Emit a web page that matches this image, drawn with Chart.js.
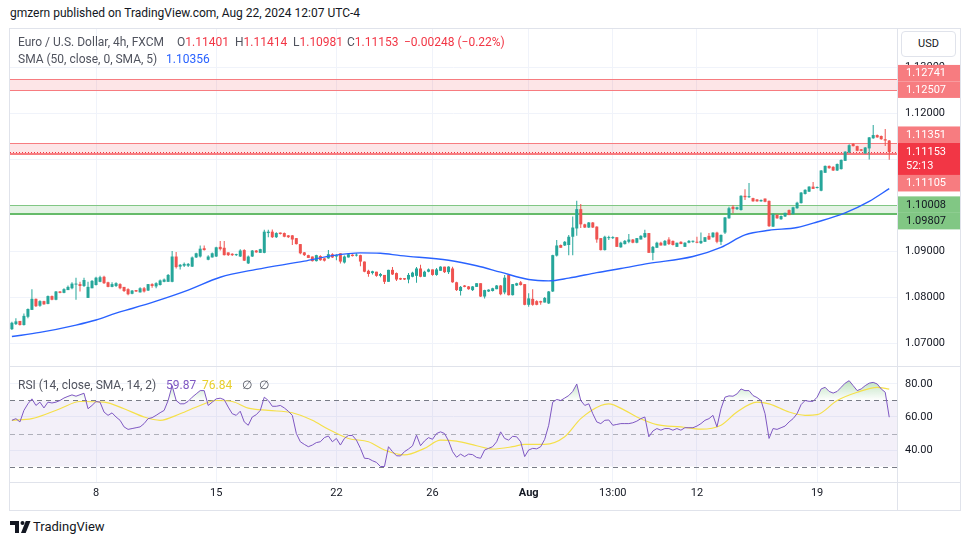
<!DOCTYPE html>
<html>
<head>
<meta charset="utf-8">
<title>EUR/USD 4h</title>
<script src="https://cdn.jsdelivr.net/npm/chart.js@4.4.1/dist/chart.umd.min.js"></script>
<style>
  html, body { margin: 0; padding: 0; background: #fff; }
  body { position: relative; width: 970px; height: 545px; overflow: hidden; font-family: Roboto, "Liberation Sans", sans-serif; color: #131722; }
  .t { position: absolute; white-space: nowrap; font-size: 12px; line-height: 16px; }
  .ln { position: absolute; background: #e0e3eb; }
  canvas { position: absolute; }
  .g { color: #50535e; }
  .r { color: #f23645; }
</style>
</head>
<body>
<div class="t" style="left:10px;top:5px;">gmzern published on TradingView.com, Aug 22, 2024 12:07 UTC-4</div>

<canvas id="price" width="950" height="337" style="left:10px;top:29px"></canvas>
<canvas id="rsi" width="950" height="143" style="left:10px;top:367px"></canvas>

<!-- frame and pane separators -->
<div class="ln" style="left:9px;top:28px;width:952px;height:1px"></div>
<div class="ln" style="left:9px;top:28px;width:1px;height:483px"></div>
<div class="ln" style="left:960px;top:28px;width:1px;height:483px"></div>
<div class="ln" style="left:9px;top:510px;width:952px;height:1px"></div>
<div class="ln" style="left:10px;top:366px;width:950px;height:1px"></div>
<div class="ln" style="left:10px;top:482px;width:950px;height:1px"></div>
<div class="ln" style="left:897px;top:29px;width:1px;height:481px"></div>

<!-- legends -->
<div class="t g" style="left:18px;top:34px">Euro / U.S. Dollar, 4h, FXCM</div>
<div class="t" style="left:177px;top:34px"><span class="g">O</span><span class="r" id="vO"></span></div>
<div class="t" style="left:235px;top:34px"><span class="g">H</span><span class="r" id="vH"></span></div>
<div class="t" style="left:293px;top:34px"><span class="g">L</span><span class="r" id="vL"></span></div>
<div class="t" style="left:347px;top:34px"><span class="g">C</span><span class="r" id="vC"></span></div>
<div class="t r" style="left:404px;top:34px" id="vChg"></div>
<div class="t g" style="left:18px;top:51px">SMA (50, close, 0, SMA, 5)</div>
<div class="t" style="left:166px;top:51px;color:#2962ff" id="vSma"></div>

<div class="t g" style="left:18px;top:377px">RSI (14, close, SMA, 14, 2)</div>
<div class="t" style="left:166px;top:377px;color:#7e57c2" id="vRsi"></div>
<div class="t" style="left:202px;top:377px;color:#e8cf2c" id="vRsiMa"></div>
<div class="t g" style="left:242px;top:377px">∅</div>
<div class="t g" style="left:259px;top:377px">∅</div>

<!-- currency box -->
<div style="position:absolute;left:901px;top:31px;width:53px;height:24px;border:1px solid #e0e3eb;border-radius:4px;background:#fff;font-size:11px;line-height:24px;text-align:center;">USD</div>

<!-- footer logo -->
<div style="position:absolute;left:10px;top:520px;">
  <svg width="21" height="12" viewBox="0 0 21 12" style="position:absolute;left:0;top:1px">
    <path d="M0 0H9V12H5V4H0Z" fill="#131722"/>
    <circle cx="12.5" cy="2" r="2" fill="#131722"/>
    <path d="M11 12L15.8 0H20.5L15.7 12Z" fill="#131722"/>
  </svg>
  <div class="t" style="left:23px;top:-1px;font-size:13px;">TradingView</div>
</div>

<script>
// EUR/USD 4h candles (FXCM), early July to Aug 22 2024
const opens = [
  1.0730, 1.0741, 1.0748, 1.0739, 1.0757, 1.0772, 1.0796, 1.0781, 1.0791, 1.0785,
  1.0802, 1.0794, 1.0812, 1.0809, 1.0815, 1.0819, 1.0827, 1.0828, 1.0824, 1.0798,
  1.0819, 1.0826, 1.0833, 1.0844, 1.0832, 1.0822, 1.0824, 1.0828, 1.0822, 1.0817,
  1.0807, 1.0815, 1.0810, 1.0819, 1.0814, 1.0828, 1.0823, 1.0826, 1.0833, 1.0833,
  1.0833, 1.0888, 1.0866, 1.0868, 1.0868, 1.0866, 1.0886, 1.0888, 1.0906, 1.0881,
  1.0886, 1.0888, 1.0909, 1.0907, 1.0897, 1.0894, 1.0891, 1.0888, 1.0902, 1.0873,
  1.0888, 1.0901, 1.0896, 1.0896, 1.0939, 1.0942, 1.0930, 1.0940, 1.0939, 1.0934,
  1.0934, 1.0928, 1.0915, 1.0897, 1.0891, 1.0888, 1.0878, 1.0889, 1.0884, 1.0884,
  1.0893, 1.0888, 1.0895, 1.0875, 1.0886, 1.0892, 1.0890, 1.0891, 1.0877, 1.0857,
  1.0852, 1.0855, 1.0846, 1.0848, 1.0833, 1.0859, 1.0852, 1.0841, 1.0841, 1.0838,
  1.0844, 1.0846, 1.0862, 1.0844, 1.0855, 1.0860, 1.0848, 1.0857, 1.0866, 1.0854,
  1.0862, 1.0832, 1.0813, 1.0825, 1.0823, 1.0815, 1.0822, 1.0830, 1.0801, 1.0812,
  1.0813, 1.0817, 1.0825, 1.0810, 1.0848, 1.0804, 1.0825, 1.0832, 1.0828, 1.0783,
  1.0796, 1.0791, 1.0791, 1.0788, 1.0786, 1.0812, 1.0890, 1.0913, 1.0912, 1.0913,
  1.0931, 1.0949, 1.0991, 1.0958, 1.0951, 1.0962, 1.0953, 1.0928, 1.0902, 1.0928,
  1.0928, 1.0930, 1.0908, 1.0915, 1.0920, 1.0925, 1.0918, 1.0925, 1.0930, 1.0939,
  1.0896, 1.0907, 1.0918, 1.0912, 1.0925, 1.0922, 1.0909, 1.0920, 1.0909, 1.0918,
  1.0920, 1.0920, 1.0917, 1.0920, 1.0933, 1.0930, 1.0940, 1.0920, 1.0940, 1.0971,
  1.0996, 1.0991, 1.0989, 1.1020, 1.1017, 1.1015, 1.1012, 1.1008, 1.1014, 1.1009,
  1.0953, 1.0979, 1.0969, 1.0975, 1.0989, 1.0980, 1.0993, 1.1004, 1.1024, 1.1029,
  1.1040, 1.1037, 1.1031, 1.1070, 1.1085, 1.1083, 1.1075, 1.1078, 1.1096, 1.1114,
  1.1133, 1.1128, 1.1121, 1.1112, 1.1123, 1.1145, 1.1152, 1.1150, 1.1143, 1.11401
];
const highs = [
  1.0746, 1.0754, 1.0748, 1.0764, 1.0775, 1.0817, 1.0797, 1.0793, 1.0792, 1.0803,
  1.0803, 1.0813, 1.0813, 1.0819, 1.0825, 1.0832, 1.0842, 1.0833, 1.0842, 1.0833,
  1.0837, 1.0844, 1.0846, 1.0846, 1.0833, 1.0832, 1.0832, 1.0830, 1.0822, 1.0819,
  1.0815, 1.0815, 1.0821, 1.0822, 1.0828, 1.0830, 1.0832, 1.0838, 1.0840, 1.0850,
  1.0900, 1.0898, 1.0872, 1.0875, 1.0874, 1.0888, 1.0896, 1.0912, 1.0912, 1.0891,
  1.0897, 1.0909, 1.0922, 1.0922, 1.0897, 1.0895, 1.0894, 1.0904, 1.0904, 1.0890,
  1.0902, 1.0902, 1.0905, 1.0946, 1.0946, 1.0947, 1.0941, 1.0940, 1.0940, 1.0935,
  1.0935, 1.0928, 1.0915, 1.0898, 1.0892, 1.0888, 1.0892, 1.0891, 1.0885, 1.0902,
  1.0895, 1.0893, 1.0895, 1.0890, 1.0895, 1.0893, 1.0895, 1.0892, 1.0877, 1.0859,
  1.0857, 1.0855, 1.0852, 1.0848, 1.0859, 1.0865, 1.0853, 1.0842, 1.0841, 1.0852,
  1.0855, 1.0865, 1.0870, 1.0857, 1.0862, 1.0860, 1.0863, 1.0867, 1.0866, 1.0867,
  1.0866, 1.0833, 1.0824, 1.0826, 1.0824, 1.0824, 1.0830, 1.0830, 1.0816, 1.0817,
  1.0820, 1.0826, 1.0826, 1.0848, 1.0850, 1.0828, 1.0831, 1.0835, 1.0828, 1.0808,
  1.0817, 1.0793, 1.0792, 1.0800, 1.0813, 1.0892, 1.0924, 1.0914, 1.0922, 1.0935,
  1.0975, 1.1009, 1.1002, 1.0959, 1.0963, 1.0963, 1.0954, 1.0928, 1.0933, 1.0933,
  1.0932, 1.0930, 1.0920, 1.0924, 1.0937, 1.0926, 1.0928, 1.0934, 1.0946, 1.0939,
  1.0911, 1.0920, 1.0920, 1.0924, 1.0930, 1.0923, 1.0918, 1.0921, 1.0919, 1.0924,
  1.0923, 1.0931, 1.0940, 1.0930, 1.0939, 1.0941, 1.0942, 1.0936, 1.0974, 1.0996,
  1.1000, 1.0996, 1.1021, 1.1034, 1.1048, 1.1016, 1.1013, 1.1012, 1.1014, 1.1010,
  1.0982, 1.0979, 1.0977, 1.0983, 1.0990, 1.0996, 1.1007, 1.1028, 1.1034, 1.1041,
  1.1050, 1.1040, 1.1076, 1.1086, 1.1086, 1.1084, 1.1090, 1.1099, 1.1117, 1.1132,
  1.1135, 1.1129, 1.1122, 1.1126, 1.1148, 1.1174, 1.1153, 1.1151, 1.1165, 1.11414
];
const lows = [
  1.0728, 1.0739, 1.0738, 1.0738, 1.0754, 1.0772, 1.0778, 1.0779, 1.0783, 1.0784,
  1.0793, 1.0793, 1.0808, 1.0808, 1.0815, 1.0817, 1.0794, 1.0812, 1.0822, 1.0798,
  1.0819, 1.0825, 1.0832, 1.0828, 1.0821, 1.0821, 1.0822, 1.0817, 1.0811, 1.0804,
  1.0806, 1.0811, 1.0810, 1.0810, 1.0813, 1.0820, 1.0819, 1.0825, 1.0832, 1.0833,
  1.0832, 1.0862, 1.0860, 1.0865, 1.0865, 1.0865, 1.0885, 1.0886, 1.0901, 1.0880,
  1.0886, 1.0887, 1.0901, 1.0890, 1.0889, 1.0889, 1.0889, 1.0887, 1.0878, 1.0872,
  1.0887, 1.0896, 1.0896, 1.0895, 1.0930, 1.0928, 1.0928, 1.0936, 1.0930, 1.0928,
  1.0913, 1.0914, 1.0893, 1.0889, 1.0885, 1.0877, 1.0877, 1.0879, 1.0877, 1.0883,
  1.0885, 1.0880, 1.0873, 1.0873, 1.0886, 1.0888, 1.0888, 1.0867, 1.0854, 1.0844,
  1.0849, 1.0844, 1.0843, 1.0828, 1.0833, 1.0848, 1.0835, 1.0837, 1.0837, 1.0830,
  1.0843, 1.0831, 1.0843, 1.0844, 1.0854, 1.0846, 1.0846, 1.0857, 1.0852, 1.0850,
  1.0831, 1.0813, 1.0803, 1.0821, 1.0816, 1.0813, 1.0822, 1.0800, 1.0797, 1.0811,
  1.0812, 1.0817, 1.0804, 1.0806, 1.0803, 1.0803, 1.0824, 1.0825, 1.0782, 1.0779,
  1.0781, 1.0782, 1.0783, 1.0788, 1.0785, 1.0811, 1.0888, 1.0907, 1.0911, 1.0891,
  1.0891, 1.0933, 1.0950, 1.0950, 1.0950, 1.0950, 1.0918, 1.0901, 1.0901, 1.0924,
  1.0926, 1.0909, 1.0907, 1.0914, 1.0917, 1.0917, 1.0917, 1.0925, 1.0928, 1.0896,
  1.0880, 1.0907, 1.0912, 1.0912, 1.0913, 1.0912, 1.0909, 1.0915, 1.0909, 1.0917,
  1.0918, 1.0917, 1.0915, 1.0920, 1.0924, 1.0929, 1.0917, 1.0913, 1.0937, 1.0970,
  1.0982, 1.0989, 1.0988, 1.1011, 1.1015, 1.1007, 1.1007, 1.1007, 1.1006, 1.0952,
  1.0952, 1.0970, 1.0968, 1.0974, 1.0978, 1.0980, 1.0992, 1.1003, 1.1023, 1.1028,
  1.1035, 1.1036, 1.1030, 1.1070, 1.1079, 1.1074, 1.1074, 1.1077, 1.1096, 1.1113,
  1.1127, 1.1117, 1.1117, 1.1112, 1.1099, 1.1144, 1.1146, 1.1142, 1.1128, 1.10981
];
const closes = [
  1.0744, 1.0747, 1.0739, 1.0759, 1.0774, 1.0796, 1.0780, 1.0791, 1.0784, 1.0802,
  1.0794, 1.0812, 1.0809, 1.0817, 1.0822, 1.0829, 1.0829, 1.0824, 1.0837, 1.0822,
  1.0835, 1.0842, 1.0843, 1.0830, 1.0822, 1.0828, 1.0830, 1.0819, 1.0813, 1.0806,
  1.0814, 1.0812, 1.0819, 1.0812, 1.0828, 1.0824, 1.0830, 1.0836, 1.0838, 1.0848,
  1.0888, 1.0865, 1.0870, 1.0872, 1.0872, 1.0886, 1.0895, 1.0905, 1.0902, 1.0888,
  1.0895, 1.0908, 1.0904, 1.0891, 1.0891, 1.0891, 1.0893, 1.0901, 1.0879, 1.0888,
  1.0901, 1.0897, 1.0904, 1.0942, 1.0942, 1.0930, 1.0939, 1.0937, 1.0931, 1.0930,
  1.0925, 1.0915, 1.0895, 1.0891, 1.0885, 1.0878, 1.0891, 1.0880, 1.0879, 1.0893,
  1.0886, 1.0891, 1.0877, 1.0888, 1.0893, 1.0889, 1.0892, 1.0877, 1.0855, 1.0850,
  1.0856, 1.0846, 1.0850, 1.0833, 1.0859, 1.0849, 1.0838, 1.0838, 1.0838, 1.0848,
  1.0853, 1.0862, 1.0844, 1.0855, 1.0860, 1.0848, 1.0860, 1.0866, 1.0854, 1.0866,
  1.0832, 1.0815, 1.0822, 1.0822, 1.0817, 1.0823, 1.0830, 1.0801, 1.0815, 1.0816,
  1.0819, 1.0825, 1.0806, 1.0842, 1.0804, 1.0828, 1.0830, 1.0826, 1.0783, 1.0797,
  1.0783, 1.0783, 1.0788, 1.0798, 1.0812, 1.0891, 1.0912, 1.0907, 1.0920, 1.0931,
  1.0951, 1.0991, 1.0958, 1.0951, 1.0962, 1.0951, 1.0925, 1.0902, 1.0931, 1.0930,
  1.0930, 1.0909, 1.0918, 1.0922, 1.0925, 1.0918, 1.0928, 1.0933, 1.0939, 1.0896,
  1.0909, 1.0918, 1.0912, 1.0922, 1.0915, 1.0913, 1.0918, 1.0915, 1.0918, 1.0922,
  1.0921, 1.0918, 1.0922, 1.0930, 1.0925, 1.0940, 1.0920, 1.0935, 1.0973, 1.0993,
  1.0991, 1.0995, 1.1020, 1.1017, 1.1018, 1.1008, 1.1008, 1.1011, 1.1007, 1.0954,
  1.0980, 1.0971, 1.0976, 1.0983, 1.0978, 1.0995, 1.1005, 1.1027, 1.1033, 1.1040,
  1.1035, 1.1038, 1.1075, 1.1085, 1.1080, 1.1075, 1.1089, 1.1098, 1.1116, 1.1130,
  1.1128, 1.1118, 1.1118, 1.1125, 1.1147, 1.1152, 1.1147, 1.1143, 1.11401, 1.11153
];

// SMA(50), at candle index
const smaIdx = [0, 7, 16, 21, 26, 30, 36, 44, 52, 61, 73, 80, 87, 92, 97, 109, 116, 122, 129, 134, 139, 146, 152, 159, 170, 177, 183, 189, 196, 201, 208, 214, 219];
const smaVals = [1.0714, 1.0723, 1.0739, 1.0750, 1.0765, 1.0775, 1.0791, 1.0815, 1.0843, 1.0860, 1.0878, 1.0890, 1.0896, 1.0895, 1.0890, 1.0880, 1.0868, 1.0854, 1.0838, 1.0835, 1.0841, 1.0853, 1.0862, 1.0873, 1.0888, 1.0908, 1.0935, 1.0945, 1.0951, 1.0963, 1.0983, 1.1008, 1.10356];

// RSI(14), one value per candle
const rsiVals = [
  58, 59, 57, 64, 68, 71, 67, 69, 65.5, 69,
  68.5, 69, 70, 71.5, 72.5, 73.4, 72.6, 73.5, 74.4, 65,
  67, 69.4, 69, 63, 61, 62.5, 60, 58, 54, 52.5,
  53, 53.5, 54, 56, 59, 59.6, 61, 62.6, 64, 70,
  79, 70, 68, 68, 69.5, 72, 74, 76, 76, 67,
  69, 71, 71.4, 70.5, 66, 62, 61, 63.5, 57, 55,
  60, 61.4, 64, 72, 70, 66.5, 66.5, 67, 65.5, 63.5,
  61, 50, 45, 43.4, 42, 43, 44.5, 45, 47.5, 48.5,
  45, 47, 43, 47, 48.8, 48.8, 46, 41, 35, 34.8,
  33.5, 32.5, 30, 30, 42, 39, 36.5, 36.4, 39, 40.6,
  42.5, 49, 42.6, 45.5, 47.5, 46.5, 50, 51, 50, 45.5,
  39, 35.6, 37.5, 36, 37.5, 37.2, 35.5, 35, 40, 41,
  42, 45, 51, 47, 46, 48.3, 48, 45, 36, 40,
  41, 40.7, 42, 46.5, 55, 69, 70.6, 70, 71.5, 73,
  75.5, 80, 70, 67, 68, 62, 57, 56, 58, 58.2,
  55, 55.5, 56, 56, 56, 56.5, 57.5, 59, 60, 48,
  51.5, 53, 52, 53, 53, 52, 53, 52, 53.5, 53.5,
  53.5, 54.5, 56, 58, 59, 61, 54, 65, 72, 72.8,
  72.6, 74, 77, 76, 76, 73, 71.8, 70, 62, 47,
  53, 52.5, 53.5, 54.5, 57, 59, 62, 67.5, 70, 69.5,
  69.5, 72, 77, 78, 75.5, 74.5, 75.5, 78, 80.5, 82,
  79, 76, 77, 79, 80.5, 81, 80, 77, 75, 59.87
];
// RSI-based SMA(14)
const rsiMaIdx = [0, 5, 12, 17, 23, 28, 33, 37, 42, 47, 51, 55, 59, 64, 70, 75, 79, 84, 89, 93, 98, 103, 107, 111, 116, 120, 125, 128, 133, 138, 142, 147, 149, 153, 156, 161, 167, 172, 177, 181, 186, 189, 194, 198, 201, 206, 211, 216, 219];
const rsiMaVals = [58, 59, 65, 69.4, 69, 65, 60, 58, 62, 67, 70, 69.4, 65.4, 64, 62.6, 58, 52.6, 47, 45, 40, 37, 41, 46, 45.4, 42.6, 40.6, 42, 43.4, 43.4, 48, 59, 67, 68, 64, 60, 55.4, 54, 52.6, 55, 63, 69, 68, 63, 61, 61.4, 70, 75, 78, 76.84];

// time axis labels at candle index
const tickIdx = [21, 51, 81, 105, 129, 150, 171, 201];
const tickText = ['8', '15', '22', '26', 'Aug', '13:00', '12', '19'];
const priceTicks = [1.07, 1.08, 1.09, 1.10, 1.11, 1.12, 1.13];
const rsiTicks = [40, 60, 80];
const rsiLevels = [70, 50, 30];

// drawn zones (low, high)
const zoneLow = [1.12507, 1.11105, 1.09807];
const zoneHigh = [1.12741, 1.11351, 1.10008];
const countdown = '52:13';

const UP = '#26a69a', DOWN = '#ef5350';
const FONT = 'Roboto, "Liberation Sans", sans-serif';
const X_MIN = -0.474, X_MAX = 220.94;

const n = closes.length;
const last = n - 1;
const lastPrice = closes[last];
const idx = closes.map((_, i) => i);
const colors = closes.map((c, i) => c >= opens[i] ? UP : DOWN);

// legend values
const chg = closes[last] - closes[last - 1];
const fmtSigned = (v, d) => (v < 0 ? '\u2212' : '+') + Math.abs(v).toFixed(d);
document.getElementById('vO').textContent = opens[last].toFixed(5);
document.getElementById('vH').textContent = highs[last].toFixed(5);
document.getElementById('vL').textContent = lows[last].toFixed(5);
document.getElementById('vC').textContent = closes[last].toFixed(5);
document.getElementById('vChg').textContent = fmtSigned(chg, 5) + ' (' + fmtSigned(chg / closes[last - 1] * 100, 2) + '%)';
document.getElementById('vSma').textContent = smaVals[smaVals.length - 1].toFixed(5);
document.getElementById('vRsi').textContent = rsiVals[last].toFixed(2);
document.getElementById('vRsiMa').textContent = rsiMaVals[rsiMaVals.length - 1].toFixed(2);

function fixAxis(width, height) {
  return s => {
    if (width != null) s.width = width;
    if (height != null) s.height = height;
    s.paddingTop = 0; s.paddingBottom = 0; s.paddingLeft = 0; s.paddingRight = 0;
  };
}

// zones + last price line under the candles
const zonePlugin = {
  id: 'zones',
  beforeDatasetsDraw(chart) {
    const { ctx, chartArea: a, scales: { y } } = chart;
    const w = a.right - a.left;
    ctx.save();
    zoneLow.forEach((lo, k) => {
      const red = lo > lastPrice - 0.001;
      const yt = Math.round(y.getPixelForValue(zoneHigh[k]));
      const yb = Math.round(y.getPixelForValue(lo));
      ctx.fillStyle = red ? 'rgba(242,54,69,0.13)' : 'rgba(76,175,80,0.15)';
      ctx.fillRect(a.left, yt, w, yb - yt);
      ctx.fillStyle = red ? '#f77c80' : '#81c784';
      ctx.fillRect(a.left, yt, w, 1);
      const thick = k === 0 ? 1 : 2;
      ctx.fillStyle = red ? '#f77c80' : '#66bb6a';
      ctx.fillRect(a.left, yb - (thick - 1), w, thick);
    });
    const py = Math.round(y.getPixelForValue(lastPrice)) + 0.5;
    ctx.strokeStyle = '#f23645';
    ctx.lineWidth = 1;
    ctx.setLineDash([1, 2]);
    ctx.beginPath();
    ctx.moveTo(a.left, py);
    ctx.lineTo(a.right, py);
    ctx.stroke();
    ctx.restore();
  },
  afterDraw(chart) {
    const { ctx, chartArea: a, scales: { y } } = chart;
    const x0 = a.right + 1, w = chart.width - x0;
    const tagH = 16.5;
    const cur = y.getPixelForValue(lastPrice);
    const curTop = cur - 9, curBot = cur + 23;
    const tags = [];
    zoneLow.forEach((lo, k) => {
      const red = lo > lastPrice - 0.001;
      [zoneHigh[k], lo].forEach(v => tags.push({
        v, px: y.getPixelForValue(v),
        bg: red ? '#f77c80' : '#81c784', fg: red ? '#ffffff' : '#131722'
      }));
    });
    // push labels away from the last-price tag, keeping order
    const above = tags.filter(t => t.px < cur).sort((p, q) => q.px - p.px);
    let lim = curTop;
    above.forEach(t => { t.cy = Math.min(t.px, lim - tagH / 2); lim = t.cy - tagH / 2; });
    const below = tags.filter(t => t.px >= cur).sort((p, q) => p.px - q.px);
    lim = curBot;
    below.forEach(t => { t.cy = Math.max(t.px, lim + tagH / 2); lim = t.cy + tagH / 2; });

    ctx.save();
    ctx.font = '11px ' + FONT;
    ctx.textBaseline = 'middle';
    ctx.textAlign = 'left';
    tags.forEach(t => {
      ctx.fillStyle = t.bg;
      ctx.fillRect(x0, t.cy - tagH / 2, w, tagH);
      ctx.fillStyle = t.fg;
      ctx.fillText(t.v.toFixed(5), x0 + 8, t.cy + 0.5);
    });
    ctx.fillStyle = '#f23645';
    ctx.fillRect(x0, curTop, w, curBot - curTop);
    ctx.fillStyle = '#ffffff';
    ctx.fillText(lastPrice.toFixed(5), x0 + 8, cur + 0.5);
    ctx.fillText(countdown, x0 + 8, cur + 14);
    ctx.restore();
  }
};

new Chart(document.getElementById('price'), {
  type: 'bar',
  data: {
    datasets: [
      {
        type: 'line',
        data: smaIdx.map((x, k) => ({ x, y: smaVals[k] })),
        borderColor: '#2962ff', borderWidth: 1.4, pointRadius: 0,
        cubicInterpolationMode: 'monotone', order: 0
      },
      {
        data: idx.map(i => ({ x: i, y: [lows[i], highs[i]] })),
        backgroundColor: colors, barThickness: 1, grouped: false, inflateAmount: 0, order: 2
      },
      {
        data: idx.map(i => ({ x: i, y: [opens[i], closes[i]] })),
        backgroundColor: colors, barThickness: 3, minBarLength: 1, grouped: false, inflateAmount: 0, order: 1
      }
    ]
  },
  options: {
    responsive: false, animation: false, events: [],
    layout: { padding: 0 },
    plugins: { legend: { display: false }, tooltip: { enabled: false } },
    scales: {
      x: {
        type: 'linear', min: X_MIN, max: X_MAX, offset: false,
        afterBuildTicks: s => { s.ticks = tickIdx.map(v => ({ value: v })); },
        ticks: { display: false },
        grid: { color: '#f0f3fa', drawTicks: false, offset: false },
        border: { display: false },
        afterFit: fixAxis(null, 0)
      },
      y: {
        position: 'right', min: 1.065, max: 1.138261,
        afterBuildTicks: s => { s.ticks = priceTicks.map(v => ({ value: v })); },
        ticks: { callback: v => v.toFixed(5), color: '#131722', font: { family: FONT, size: 11 }, padding: 8 },
        grid: { color: '#f0f3fa', drawTicks: false },
        border: { display: false },
        afterFit: fixAxis(63, null)
      }
    }
  },
  plugins: [zonePlugin]
});

// RSI bands, dashed levels and the faded overbought / oversold fills
const bandPlugin = {
  id: 'bands',
  beforeDatasetsDraw(chart) {
    const { ctx, chartArea: a, scales: { y } } = chart;
    const y70 = y.getPixelForValue(rsiLevels[0]), y30 = y.getPixelForValue(rsiLevels[2]);
    ctx.save();
    ctx.fillStyle = 'rgba(126,87,194,0.09)';
    ctx.fillRect(a.left, y70, a.right - a.left, y30 - y70);
    ctx.lineWidth = 1;
    ctx.setLineDash([5, 4]);
    rsiLevels.forEach((lv, k) => {
      const py = Math.round(y.getPixelForValue(lv)) + 0.5;
      ctx.strokeStyle = k === 1 ? 'rgba(120,123,134,0.55)' : '#787b86';
      ctx.beginPath();
      ctx.moveTo(a.left, py);
      ctx.lineTo(a.right, py);
      ctx.stroke();
    });
    ctx.restore();

    const pts = chart.getDatasetMeta(0).data;
    const area = (clipTop, clipBot, base, far, rgb) => {
      ctx.save();
      ctx.beginPath();
      ctx.rect(a.left, clipTop, a.right - a.left, clipBot - clipTop);
      ctx.clip();
      const g = ctx.createLinearGradient(0, far, 0, base);
      g.addColorStop(0, 'rgba(' + rgb + ',0.9)');
      g.addColorStop(1, 'rgba(' + rgb + ',0)');
      ctx.fillStyle = g;
      ctx.beginPath();
      ctx.moveTo(pts[0].x, base);
      pts.forEach(p => ctx.lineTo(p.x, p.y));
      ctx.lineTo(pts[pts.length - 1].x, base);
      ctx.closePath();
      ctx.fill();
      ctx.restore();
    };
    area(a.top, y70, y70, y.getPixelForValue(100), '76,175,80');
    area(y30, a.bottom, y30, y.getPixelForValue(0), '242,54,69');
  }
};

const rsiPoints = idx.map(i => ({ x: i, y: rsiVals[i] }));
new Chart(document.getElementById('rsi'), {
  type: 'line',
  data: {
    datasets: [
      { data: rsiPoints, borderColor: '#7e57c2', borderWidth: 1, pointRadius: 0, fill: false },
      {
        data: rsiMaIdx.map((x, k) => ({ x, y: rsiMaVals[k] })),
        borderColor: '#f5e04a', borderWidth: 1.2, pointRadius: 0, cubicInterpolationMode: 'monotone', fill: false
      }
    ]
  },
  options: {
    responsive: false, animation: false, events: [],
    layout: { padding: 0 },
    plugins: { legend: { display: false }, tooltip: { enabled: false } },
    scales: {
      x: {
        type: 'linear', min: X_MIN, max: X_MAX, offset: false,
        afterBuildTicks: s => { s.ticks = tickIdx.map(v => ({ value: v })); },
        ticks: {
          autoSkip: false, maxRotation: 0, padding: 5, color: '#131722',
          callback: v => tickText[tickIdx.indexOf(v)],
          font: c => ({ family: FONT, size: 11, weight: c.tick && c.tick.label === 'Aug' ? 'bold' : 'normal' })
        },
        grid: { color: '#f0f3fa', drawTicks: false },
        border: { display: false },
        afterFit: fixAxis(null, 28)
      },
      y: {
        position: 'right', min: 20.61, max: 90.3,
        afterBuildTicks: s => { s.ticks = rsiTicks.map(v => ({ value: v })); },
        ticks: { callback: v => v.toFixed(2), color: '#131722', font: { family: FONT, size: 11 }, padding: 8 },
        grid: { color: '#f0f3fa', drawTicks: false },
        border: { display: false },
        afterFit: fixAxis(63, null)
      }
    }
  },
  plugins: [bandPlugin]
});
</script>
</body>
</html>
